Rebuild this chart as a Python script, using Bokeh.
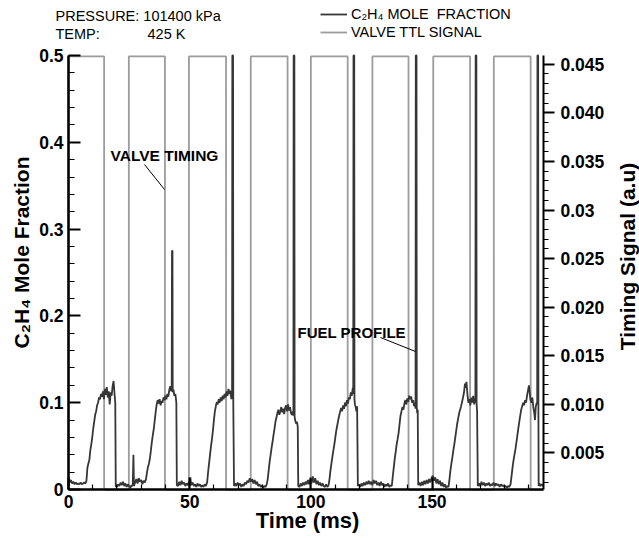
import math
from bokeh.plotting import figure
from bokeh.models import Range1d, LinearAxis, FixedTicker, Label, Legend, LegendItem
from bokeh.embed import file_html
from bokeh.resources import INLINE

# ---------------- data ----------------
x_ticks = [0, 50, 100, 150]
left_ticks = [0, 0.1, 0.2, 0.3, 0.4, 0.5]
left_tick_labels = {0: "0"}
right_ticks = [0.005, 0.01, 0.015, 0.02, 0.025, 0.03, 0.035, 0.04, 0.045]
right_tick_labels = {0.005: "0.005", 0.01: "0.010", 0.015: "0.015", 0.02: "0.020", 0.025: "0.025",
                     0.03: "0.03", 0.035: "0.035", 0.04: "0.040", 0.045: "0.045"}

# valve TTL square wave (ms), right axis units
valve_on = [0.0, 24.9, 49.7, 75.2, 100.0, 125.4, 150.5, 175.5]
valve_off = [14.7, 39.8, 65.0, 90.4, 115.2, 140.3, 165.7, 190.7]
valve_high = 0.0458
valve_low = 0.0012
t_end = 196.0

# C2H4 mole fraction samples (time ms, mole fraction)
cycle1 = [(0.0, 0.004), (0.3, 0.012), (0.7, 0.008), (1.0, 0.011), (1.5, 0.007), (2.0, 0.009),
          (2.5, 0.006), (3.0, 0.008), (3.5, 0.006), (4.0, 0.007), (4.5, 0.006), (5.0, 0.008),
          (5.5, 0.006), (6.0, 0.007), (6.5, 0.008), (7.0, 0.007), (7.4, 0.010), (7.8, 0.025),
          (8.2, 0.030), (8.6, 0.034), (9.0, 0.045), (9.4, 0.052), (9.8, 0.060), (10.2, 0.070),
          (10.6, 0.078), (11.0, 0.086), (11.4, 0.090), (11.8, 0.097), (12.2, 0.100), (12.6, 0.106),
          (13.0, 0.104), (13.4, 0.110), (13.8, 0.107), (14.2, 0.113), (14.6, 0.104), (15.0, 0.116),
          (15.4, 0.109), (15.8, 0.118), (16.2, 0.106), (16.6, 0.113), (17.0, 0.098), (17.4, 0.112),
          (17.8, 0.108), (18.2, 0.119), (18.6, 0.125), (19.0, 0.110), (19.3, 0.100), (19.5, 0.004)]
cycle2 = [(20.0, 0.003), (20.5, 0.006), (21.0, 0.004), (21.5, 0.008), (22.0, 0.005), (22.5, 0.009),
          (23.0, 0.004), (23.5, 0.007), (24.0, 0.003), (24.5, 0.006), (25.0, 0.004), (25.5, 0.002),
          (26.0, 0.005), (26.5, 0.004), (26.8, 0.040), (27.0, 0.004), (27.5, 0.008), (28.0, 0.012),
          (28.5, 0.007), (29.0, 0.013), (29.5, 0.009), (30.0, 0.011), (30.5, 0.006), (31.0, 0.010),
          (31.5, 0.008), (32.0, 0.012), (32.4, 0.020), (32.8, 0.026), (33.2, 0.030), (33.6, 0.036),
          (34.0, 0.045), (34.4, 0.055), (34.8, 0.063), (35.2, 0.070), (35.6, 0.080), (36.0, 0.090),
          (36.4, 0.098), (36.8, 0.103), (37.2, 0.099), (37.6, 0.104), (38.0, 0.097), (38.4, 0.102),
          (38.8, 0.100), (39.2, 0.106), (39.6, 0.103), (40.0, 0.108), (40.4, 0.104), (40.8, 0.110),
          (41.2, 0.107), (41.6, 0.115), (42.0, 0.119), (42.4, 0.113), (42.6, 0.118), (42.7, 0.275),
          (42.9, 0.275), (43.0, 0.112), (43.3, 0.115), (43.7, 0.108), (44.1, 0.110), (44.5, 0.100),
          (44.7, 0.005)]
cycle3 = [(45.2, 0.004), (45.7, 0.009), (46.2, 0.005), (46.7, 0.010), (47.2, 0.006), (47.7, 0.008),
          (48.2, 0.004), (48.7, 0.007), (49.2, 0.005), (49.7, 0.009), (50.0, 0.004), (50.3, 0.014),
          (50.6, 0.005), (51.2, 0.008), (51.7, 0.004), (52.2, 0.006), (52.7, 0.003), (53.2, 0.007),
          (53.7, 0.004), (54.2, 0.006), (54.7, 0.003), (55.2, 0.005), (55.7, 0.003), (56.2, 0.006),
          (56.7, 0.004), (57.2, 0.008), (57.6, 0.020), (58.0, 0.030), (58.4, 0.040), (58.8, 0.050),
          (59.2, 0.058), (59.6, 0.068), (60.0, 0.080), (60.4, 0.090), (60.8, 0.096), (61.2, 0.101),
          (61.6, 0.098), (62.0, 0.104), (62.4, 0.100), (62.8, 0.106), (63.2, 0.102), (63.6, 0.108),
          (64.0, 0.104), (64.4, 0.110), (64.8, 0.106), (65.2, 0.113), (65.6, 0.108), (66.0, 0.116),
          (66.4, 0.110), (66.8, 0.114), (67.2, 0.104), (67.5, 0.110), (67.6, 0.5), (67.9, 0.5),
          (68.0, 0.098), (68.3, 0.004)]
cycle4 = [(68.8, 0.007), (69.3, 0.004), (69.8, 0.008), (70.3, 0.005), (70.8, 0.007), (71.3, 0.003),
          (71.8, 0.006), (72.3, 0.004), (72.8, 0.008), (73.3, 0.006), (73.8, 0.010), (74.3, 0.008),
          (74.8, 0.013), (75.3, 0.009), (75.8, 0.012), (76.3, 0.007), (76.8, 0.011), (77.3, 0.006),
          (77.8, 0.009), (78.3, 0.004), (78.8, 0.006), (79.3, 0.003), (79.8, 0.005), (80.3, 0.002),
          (80.8, 0.004), (81.3, 0.003), (81.8, 0.006), (82.2, 0.012), (82.6, 0.022), (83.0, 0.032),
          (83.4, 0.040), (83.8, 0.048), (84.2, 0.055), (84.6, 0.063), (85.0, 0.070), (85.4, 0.078),
          (85.8, 0.083), (86.2, 0.088), (86.6, 0.092), (87.0, 0.086), (87.4, 0.090), (87.8, 0.095),
          (88.2, 0.089), (88.6, 0.093), (89.0, 0.087), (89.4, 0.094), (89.8, 0.097), (90.2, 0.090),
          (90.6, 0.098), (91.0, 0.091), (91.4, 0.095), (91.8, 0.088), (92.2, 0.086), (92.6, 0.090),
          (92.8, 0.085), (92.9, 0.5), (93.2, 0.5), (93.3, 0.084), (93.5, 0.080), (93.9, 0.076),
          (94.3, 0.078), (94.6, 0.072), (94.8, 0.004)]
cycle5 = [(95.3, 0.003), (95.8, 0.007), (96.3, 0.004), (96.8, 0.008), (97.3, 0.005), (97.8, 0.009),
          (98.3, 0.006), (98.8, 0.011), (99.3, 0.006), (99.8, 0.012), (100.3, 0.007), (100.8, 0.015),
          (101.3, 0.008), (101.8, 0.013), (102.3, 0.006), (102.8, 0.010), (103.3, 0.005), (103.8, 0.008),
          (104.3, 0.004), (104.8, 0.007), (105.3, 0.004), (105.8, 0.003), (106.3, 0.006), (106.8, 0.003),
          (107.3, 0.005), (107.7, 0.012), (108.1, 0.022), (108.5, 0.030), (108.9, 0.038), (109.3, 0.045),
          (109.7, 0.052), (110.1, 0.060), (110.5, 0.068), (110.9, 0.074), (111.3, 0.080), (111.7, 0.085),
          (112.1, 0.090), (112.5, 0.094), (112.9, 0.090), (113.3, 0.097), (113.7, 0.093), (114.1, 0.100),
          (114.5, 0.096), (114.9, 0.103), (115.3, 0.099), (115.7, 0.106), (116.1, 0.104), (116.5, 0.112),
          (116.9, 0.108), (117.3, 0.117), (117.5, 0.110), (117.6, 0.5), (117.9, 0.5), (118.0, 0.104),
          (118.2, 0.098), (118.5, 0.095), (118.8, 0.090), (119.1, 0.096), (119.4, 0.004)]
cycle6 = [(119.9, 0.006), (120.4, 0.003), (120.9, 0.007), (121.4, 0.004), (121.9, 0.008), (122.4, 0.005),
          (122.9, 0.009), (123.4, 0.006), (123.9, 0.010), (124.4, 0.006), (124.9, 0.009), (125.4, 0.005),
          (125.9, 0.011), (126.4, 0.007), (126.9, 0.010), (127.4, 0.005), (127.9, 0.008), (128.4, 0.004),
          (128.9, 0.009), (129.4, 0.005), (129.9, 0.007), (130.4, 0.003), (130.9, 0.006), (131.4, 0.004),
          (131.9, 0.007), (132.4, 0.003), (132.9, 0.005), (133.4, 0.004), (133.8, 0.015), (134.2, 0.025),
          (134.6, 0.035), (135.0, 0.043), (135.4, 0.052), (135.8, 0.058), (136.2, 0.065), (136.6, 0.075),
          (137.0, 0.085), (137.4, 0.090), (137.8, 0.095), (138.2, 0.092), (138.6, 0.099), (139.0, 0.103),
          (139.4, 0.098), (139.8, 0.105), (140.2, 0.101), (140.6, 0.108), (141.0, 0.104), (141.4, 0.107),
          (141.8, 0.100), (142.2, 0.103), (142.6, 0.096), (143.0, 0.099), (143.2, 0.093), (143.3, 0.5),
          (143.6, 0.5), (143.7, 0.094), (143.9, 0.088), (144.1, 0.092), (144.3, 0.005)]
cycle7 = [(144.8, 0.008), (145.3, 0.004), (145.8, 0.009), (146.3, 0.005), (146.8, 0.010), (147.3, 0.006),
          (147.8, 0.011), (148.3, 0.007), (148.8, 0.012), (149.3, 0.008), (149.8, 0.013), (150.3, 0.016),
          (150.8, 0.010), (151.3, 0.014), (151.8, 0.007), (152.3, 0.012), (152.8, 0.006), (153.3, 0.010),
          (153.8, 0.004), (154.3, 0.008), (154.8, 0.003), (155.3, 0.006), (155.8, 0.002), (156.3, 0.004),
          (156.8, 0.003), (157.2, 0.012), (157.6, 0.022), (158.0, 0.030), (158.4, 0.037), (158.8, 0.045),
          (159.2, 0.052), (159.6, 0.060), (160.0, 0.068), (160.4, 0.076), (160.8, 0.082), (161.2, 0.088),
          (161.6, 0.092), (162.0, 0.096), (162.4, 0.101), (162.8, 0.106), (163.2, 0.112), (163.6, 0.122),
          (163.9, 0.117), (164.2, 0.124), (164.6, 0.110), (165.0, 0.100), (165.4, 0.104), (165.8, 0.097),
          (166.2, 0.106), (166.6, 0.100), (167.0, 0.108), (167.4, 0.098), (167.7, 0.104), (167.9, 0.100),
          (168.0, 0.5), (168.3, 0.5), (168.4, 0.098), (168.6, 0.090), (168.9, 0.004)]
cycle8 = [(169.4, 0.007), (169.9, 0.004), (170.4, 0.009), (170.9, 0.005), (171.4, 0.008), (171.9, 0.004),
          (172.4, 0.007), (172.9, 0.005), (173.4, 0.008), (173.9, 0.004), (174.4, 0.006), (174.9, 0.005),
          (175.4, 0.008), (175.9, 0.004), (176.4, 0.007), (176.9, 0.005), (177.4, 0.006), (177.9, 0.003),
          (178.4, 0.006), (178.9, 0.004), (179.4, 0.005), (179.9, 0.003), (180.4, 0.004), (180.9, 0.002),
          (181.4, 0.004), (181.9, 0.003), (182.4, 0.006), (182.8, 0.015), (183.2, 0.025), (183.6, 0.033),
          (184.0, 0.040), (184.4, 0.046), (184.8, 0.054), (185.2, 0.062), (185.6, 0.070), (186.0, 0.078),
          (186.4, 0.085), (186.8, 0.092), (187.2, 0.096), (187.6, 0.100), (188.0, 0.097), (188.4, 0.103),
          (188.8, 0.100), (189.2, 0.108), (189.6, 0.114), (190.0, 0.120), (190.3, 0.112), (190.6, 0.104),
          (191.0, 0.100), (191.4, 0.106), (191.8, 0.095), (192.2, 0.088), (192.5, 0.080), (192.8, 0.095),
          (193.2, 0.100), (193.4, 0.098), (193.5, 0.5), (193.8, 0.5), (193.9, 0.090), (194.0, 0.004),
          (194.3, 0.007), (194.8, 0.004), (195.3, 0.006), (196.0, 0.004)]

header_pressure = "PRESSURE: 101400 kPa"
header_temp_name = "TEMP:"
header_temp_value = "425 K"
series_names = ["C\u2082H\u2084 MOLE  FRACTION", "VALVE TTL SIGNAL"]
x_title = "Time (ms)"
left_title = "C\u2082H\u2084 Mole Fraction"
right_title = "Timing Signal (a.u)"

# ---------------- build series ----------------
c2h4 = cycle1 + cycle2 + cycle3 + cycle4 + cycle5 + cycle6 + cycle7 + cycle8
c2h4_t = [a for a, b in c2h4]
c2h4_v = [b for a, b in c2h4]

valve_t, valve_v = [], []
for on, off in zip(valve_on, valve_off):
    valve_t += [on, on, off, off]
    valve_v += [valve_low, valve_high, valve_high, valve_low]
valve_t.append(t_end)
valve_v.append(valve_low)

# ---------------- figure ----------------
FONT = "Liberation Sans"
W, H = 639, 538
FL, FT, FR, FB = 68, 55, 543, 489   # plot box in canvas pixels
X0, X1 = 0, 196
Y0, Y1 = 0, 0.5
R0, R1 = 0.00124, 0.0459
kx = (X1 - X0) / (FR - FL)
ky = (Y1 - Y0) / (FB - FT)
kr = (R1 - R0) / (FB - FT)

# the data frame covers the whole canvas; axes are pinned to the plot box edges
p = figure(width=W, height=H, output_backend="svg", toolbar_location=None,
           x_range=Range1d(X0 - FL * kx, X1 + (W - FR) * kx),
           y_range=Range1d(Y0 - (H - FB) * ky, Y1 + FT * ky),
           min_border_left=0, min_border_right=0, min_border_top=0, min_border_bottom=0)
p.title.visible = False
p.extra_y_ranges = {"ttl": Range1d(R0 - (H - FB) * kr, R1 + FT * kr)}
p.outline_line_color = None
p.grid.visible = False
p.background_fill_color = "white"
p.border_fill_color = "white"

def px(x):
    return X0 + (x - FL) * kx
def py(y):
    return Y0 + (FB - y) * ky

def style_axis(ax):
    ax.axis_line_color = "black"
    ax.major_tick_line_color = "black"
    ax.minor_tick_line_color = "black"
    ax.major_label_text_font = FONT
    ax.major_label_text_font_style = "bold"
    ax.major_label_text_font_size = "17.5px"
    ax.major_label_text_color = "black"

xa = p.xaxis[0]
style_axis(xa)
xa.fixed_location = Y0
xa.bounds = (X0, X1)
xa.ticker = FixedTicker(ticks=x_ticks, minor_ticks=list(range(10, 200, 10)))
xa.axis_line_width = 2.5
xa.major_tick_in = 12
xa.major_tick_out = 0
xa.minor_tick_in = 5
xa.minor_tick_out = 0
xa.major_tick_line_width = 2
xa.minor_tick_line_width = 1.2
xa.major_label_standoff = 5

ya = p.yaxis[0]
style_axis(ya)
ya.fixed_location = X0
ya.bounds = (Y0, Y1)
ya.ticker = FixedTicker(ticks=left_ticks, minor_ticks=[i / 100 for i in range(2, 50, 2)])
ya.major_label_overrides = left_tick_labels
ya.axis_line_width = 2.5
ya.major_tick_in = 12
ya.major_tick_out = 0
ya.minor_tick_in = 6
ya.minor_tick_out = 0
ya.major_tick_line_width = 2
ya.minor_tick_line_width = 1.2
ya.major_label_standoff = 5

ra = LinearAxis(y_range_name="ttl", fixed_location=X1, bounds=(R0, R1),
                ticker=FixedTicker(ticks=right_ticks, minor_ticks=[i / 1000 for i in range(2, 46)]))
style_axis(ra)
ra.major_label_overrides = right_tick_labels
ra.axis_line_width = 2
ra.major_tick_in = 0
ra.major_tick_out = 11
ra.minor_tick_in = 0
ra.minor_tick_out = 5
ra.major_tick_line_width = 1.8
ra.minor_tick_line_width = 1.2
ra.major_label_standoff = 6
p.add_layout(ra, "right")

# ---------------- series ----------------
r_valve = p.line(valve_t, valve_v, y_range_name="ttl", line_color="#9c9c9c", line_width=1.8)
r_c2h4 = p.line(c2h4_t, c2h4_v, line_color="#363636", line_width=1.8)

# annotation leaders
p.segment(x0=[px(144), px(380)], y0=[py(164), py(337)],
          x1=[px(164), px(415)], y1=[py(189), py(351)], line_color="black", line_width=1)

def label(text, x, y, size, bold=False, align="left", angle=0.0):
    p.add_layout(Label(x=x, y=y, text=text, text_font=FONT, text_font_size=size,
                       text_font_style="bold" if bold else "normal", text_color="black",
                       text_align=align, text_baseline="middle", angle=angle))

label("VALVE TIMING", px(110), py(155), "15.5px", bold=True)
label("FUEL PROFILE", px(297), py(332), "15px", bold=True)
label(header_pressure, px(55), py(15), "14.5px")
label(header_temp_name, px(55), py(33), "14.5px")
label(header_temp_value, px(147), py(33), "14.5px")
label(x_title, px(307), py(520), "22px", bold=True, align="center")
label(left_title, px(21), py(252), "21px", bold=True, align="center", angle=math.pi / 2)
label(right_title, px(627), py(256), "21px", bold=True, align="center", angle=math.pi / 2)

legend = Legend(items=[LegendItem(label=series_names[0], renderers=[r_c2h4]),
                       LegendItem(label=series_names[1], renderers=[r_valve])],
                location=(320, H - 41), orientation="vertical",
                border_line_color=None, background_fill_alpha=0,
                padding=0, spacing=0, margin=0,
                glyph_width=27, glyph_height=18, label_height=18, label_standoff=4,
                label_text_font=FONT, label_text_font_size="14.5px", label_text_color="black")
p.add_layout(legend)

open("out.html", "w").write(file_html(p, INLINE))
